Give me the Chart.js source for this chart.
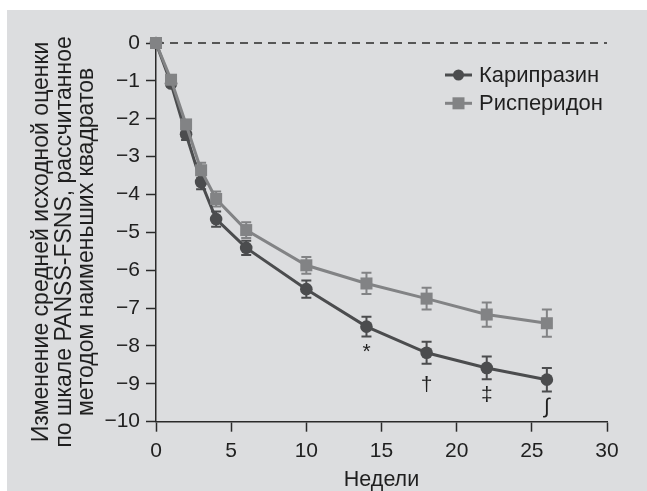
<!DOCTYPE html>
<html>
<head>
<meta charset="utf-8">
<script src="https://cdn.jsdelivr.net/npm/chart.js@4/dist/chart.umd.min.js"></script>
<style>
  html, body { margin: 0; padding: 0; background: #fff; }
  #wrap { position: absolute; left: 7px; top: 10px; width: 640px; height: 481px; background: #dcdddf; }
  canvas { display: block; }
</style>
</head>
<body>
<div id="wrap"><canvas id="c" width="640" height="481"></canvas></div>
<script>
// ---- Data ----
const weeks = [0, 1, 2, 3, 4, 6, 10, 14, 18, 22, 26];
const cariprazine = [0, -1.07, -2.41, -3.67, -4.65, -5.41, -6.50, -7.49, -8.18, -8.58, -8.89];
const cariprazineErr = [0, 0.08, 0.15, 0.19, 0.2, 0.19, 0.23, 0.26, 0.29, 0.3, 0.31];
const risperidone = [0, -0.97, -2.15, -3.36, -4.12, -4.94, -5.87, -6.35, -6.75, -7.17, -7.40];
const risperidoneErr = [0, 0.08, 0.12, 0.2, 0.2, 0.21, 0.22, 0.28, 0.29, 0.32, 0.36];
const seriesNames = ["Карипразин", "Рисперидон"];
const marks = ["", "", "", "", "", "", "", "*", "†", "‡", "∫"];
const yTitle = ["Изменение средней исходной оценки   ", "по шкале PANSS-FSNS, рассчитанное   ", "методом наименьших квадратов   "];
const xTitle = "Недели";

// ---- Style ----
const C = {
  dark: "#4b4c4e",
  gray: "#828385",
  text: "#1f1f1f",
  axis: "#2a2a2a",
};
const FONT = "'Liberation Sans', Arial, sans-serif";
const markGap = {"*": 5, "†": 11, "‡": 5, "∫": 5};

const pts = (vals) => vals.map((v, i) => ({x: weeks[i], y: v}));

// error bars drawn under the markers
const errorBars = {
  id: "errorBars",
  beforeDatasetsDraw(chart) {
    const {ctx, scales: {x, y}} = chart;
    chart.data.datasets.forEach(ds => {
      if (!ds.errors) return;
      ctx.save();
      ctx.strokeStyle = ds.borderColor;
      ctx.lineWidth = 2;
      ds.data.forEach((p, j) => {
        const e = ds.errors[j];
        if (!e) return;
        const px = x.getPixelForValue(p.x);
        const t = y.getPixelForValue(p.y + e);
        const b = y.getPixelForValue(p.y - e);
        ctx.beginPath();
        ctx.moveTo(px, t); ctx.lineTo(px, b);
        ctx.moveTo(px - 5, t); ctx.lineTo(px + 5, t);
        ctx.moveTo(px - 5, b); ctx.lineTo(px + 5, b);
        ctx.stroke();
      });
      ctx.restore();
    });
  },
  afterDatasetsDraw(chart) {
    // significance marks below cariprazine points
    const {ctx, scales: {x, y}} = chart;
    ctx.save();
    ctx.fillStyle = C.text;
    ctx.font = "21px " + FONT;
    ctx.textAlign = "center";
    ctx.textBaseline = "top";
    marks.forEach((m, j) => {
      if (!m) return;
      const px = x.getPixelForValue(weeks[j]);
      const b = y.getPixelForValue(cariprazine[j] - cariprazineErr[j]);
      ctx.fillText(m, px, b + markGap[m]);
    });
    ctx.restore();
  }
};

// legend: line with marker through it
const lineLegend = {
  id: "lineLegend",
  afterDraw(chart) {
    const {ctx} = chart;
    const items = [
      {name: seriesNames[0], color: C.dark, shape: "circle"},
      {name: seriesNames[1], color: C.gray, shape: "rect"},
    ];
    ctx.save();
    items.forEach((it, i) => {
      const cy = 65 + i * 28.3;
      ctx.strokeStyle = it.color;
      ctx.fillStyle = it.color;
      ctx.lineWidth = 3;
      ctx.beginPath();
      ctx.moveTo(438, cy); ctx.lineTo(465, cy);
      ctx.stroke();
      if (it.shape === "circle") {
        ctx.beginPath(); ctx.arc(451.5, cy, 5.5, 0, Math.PI * 2); ctx.fill();
      } else {
        ctx.fillRect(451.5 - 6, cy - 6, 12, 12);
      }
      ctx.fillStyle = C.text;
      ctx.font = "22px " + FONT;
      ctx.textAlign = "left";
      ctx.textBaseline = "middle";
      ctx.fillText(it.name, 472, cy + 1);
    });
    ctx.restore();
  }
};

new Chart(document.getElementById("c"), {
  type: "line",
  data: {
    datasets: [
      {
        label: seriesNames[1], data: pts(risperidone), errors: risperidoneErr,
        borderColor: C.gray, backgroundColor: C.gray, borderWidth: 3,
        pointStyle: "rect", pointRadius: 8.5, pointBorderWidth: 0,
        clip: false, order: 0,
      },
      {
        label: seriesNames[0], data: pts(cariprazine), errors: cariprazineErr,
        borderColor: C.dark, backgroundColor: C.dark, borderWidth: 3,
        pointStyle: "circle", pointRadius: 6.3, pointBorderWidth: 0,
        clip: false, order: 1,
      },
      {
        label: "zero", data: [{x: 0, y: 0}, {x: 30, y: 0}],
        borderColor: C.axis, borderWidth: 1.5, borderDash: [8, 6],
        pointRadius: 0, clip: false, order: 5,
      },
    ]
  },
  options: {
    responsive: false,
    animation: false,
    events: [],
    layout: { padding: { top: 33, right: 40, left: 0, bottom: 0 } },
    plugins: { legend: { display: false }, tooltip: { enabled: false } },
    scales: {
      x: {
        type: "linear", min: 0, max: 30,
        border: { color: C.axis, width: 1.5 },
        grid: { drawOnChartArea: false, tickLength: 10, tickColor: C.axis, tickWidth: 1.5 },
        ticks: { stepSize: 5, color: C.text, padding: 7, font: { family: FONT, size: 21 } },
        title: { display: true, text: xTitle, color: C.text, padding: { top: 0, bottom: 0 },
                 font: { family: FONT, size: 21.5, lineHeight: 1.05 } },
        afterFit: s => { s.height = 69.3; },
      },
      y: {
        min: -10, max: 0,
        border: { color: C.axis, width: 1.5 },
        grid: { drawOnChartArea: false, tickLength: 10, tickColor: C.axis, tickWidth: 1.5 },
        ticks: { stepSize: 1, color: C.text, padding: 6, font: { family: FONT, size: 21 },
                 callback: v => String(v).replace("-", "\u2212") },
        title: { display: true, text: yTitle, color: C.text, padding: { top: 23.5, bottom: 0 },
                 font: { family: FONT, size: 23, lineHeight: 0.98 } },
        afterFit: s => { s.width = 149; },
      }
    }
  },
  plugins: [errorBars, lineLegend]
});
</script>
</body>
</html>
